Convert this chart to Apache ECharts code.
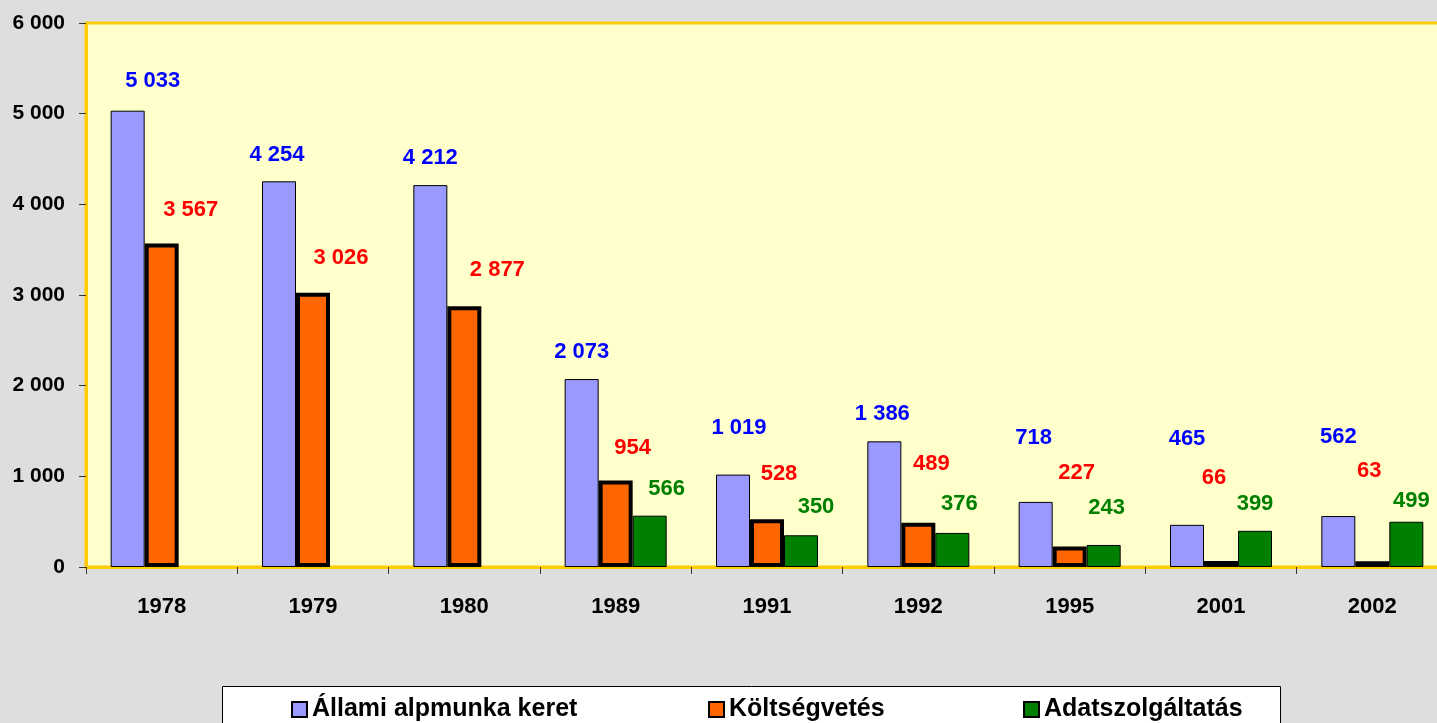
<!DOCTYPE html>
<html>
<head>
<meta charset="utf-8">
<script src="https://cdn.jsdelivr.net/npm/echarts@6/dist/echarts.min.js"></script>
<style>
html,body{margin:0;padding:0;background:#DEDEDE;}
#c{width:1437px;height:723px;}
</style>
</head>
<body>
<div id="c"></div>
<script>
const categories = ['1978','1979','1980','1989','1991','1992','1995','2001','2002'];
const seriesNames = ['Állami alpmunka keret','Költségvetés','Adatszolgáltatás'];
const allami = [5033, 4254, 4212, 2073, 1019, 1386, 718, 465, 562];
const koltseg = [3567, 3026, 2877, 954, 528, 489, 227, 66, 63];
const adat = [null, null, null, 566, 350, 376, 243, 399, 499];
const yTicks = [0, 1000, 2000, 3000, 4000, 5000, 6000];

// label nudges (label placement only)
const nudgeA = [[25,-30],[-2,-26],[0,-27],[0,-27],[6,-47],[-2,-27],[-2,-64],[0,-86],[0,-79]];
const nudgeK = [[29,-34],[28,-35],[33,-36],[17,-33],[12,-45],[13,-59],[7,-73],[-7,-83],[-3,-90]];
const nudgeD = [[0,0],[0,0],[0,0],[17,-27],[15,-28],[7,-29],[3,-37],[0,-27],[5,-21]];

const fmt = v => String(v).replace(/\B(?=(\d{3})+(?!\d))/g, ' ');
const FONT = '"Liberation Sans", Arial, sans-serif';

function mk(values, nudges) {
  return values.map((v, i) => ({
    value: v,
    label: { offset: nudges[i] }
  }));
}
const labelBase = (color) => ({
  show: true, position: 'top', distance: 0, verticalAlign: 'middle', align: 'center',
  color: color, fontFamily: FONT, fontWeight: 'bold', fontSize: 22,
  formatter: p => fmt(p.value)
});

const chart = echarts.init(document.getElementById('c'), null, {renderer: 'canvas'});
chart.setOption({
  backgroundColor: '#DEDEDE',
  animation: false,
  grid: {
    left: 86, top: 23, width: 1362, height: 544,
    outerBoundsMode: 'none', containLabel: false,
    show: true, backgroundColor: '#FFFFCC', borderColor: '#FFCC00', borderWidth: 3
  },
  xAxis: {
    type: 'category', data: categories,
    axisLine: { lineStyle: { color: '#FFCC00', width: 3 } },
    axisTick: { show: true, length: 7, lineStyle: { color: '#333333', width: 1 } },
    axisLabel: { color: '#000', fontFamily: FONT, fontWeight: 'bold', fontSize: 22, margin: 29 }
  },
  yAxis: {
    type: 'value', min: yTicks[0], max: yTicks[yTicks.length-1], interval: 1000,
    splitLine: { show: false },
    axisLine: { show: true, lineStyle: { color: '#FFCC00', width: 3 } },
    axisTick: { show: true, length: 7, lineStyle: { color: '#333333', width: 1 } },
    axisLabel: { color: '#000', fontFamily: FONT, fontWeight: 'bold', fontSize: 21, margin: 21, formatter: v => fmt(v) }
  },
  legend: [0,1,2].map((i) => ({
    data: [seriesNames[i]],
    left: [291, 708, 1023][i], top: 697,
    itemWidth: 15, itemHeight: 15, icon: 'rect',
    padding: 0,
    textStyle: { color: '#000', fontFamily: FONT, fontWeight: 'bold', fontSize: 25, padding: [0,0,0,0] },
    selectedMode: false
  })),
  graphic: [{
    type: 'rect', z: -1, silent: true,
    shape: { x: 222.5, y: 686.5, width: 1058, height: 60 },
    style: { fill: '#FFFFFF', stroke: '#000000', lineWidth: 1 }
  }],
  series: [
    {
      name: seriesNames[0], type: 'bar', barWidth: 34, barGap: '0%',
      itemStyle: { color: '#9999FF', borderColor: '#000', borderWidth: 1 },
      label: labelBase('#0000FF'),
      data: mk(allami, nudgeA)
    },
    {
      name: seriesNames[1], type: 'bar', barWidth: 34, barGap: '0%',
      itemStyle: { color: '#FF6600', borderColor: '#000', borderWidth: 4 },
      label: labelBase('#FF0000'),
      data: mk(koltseg, nudgeK)
    },
    {
      name: seriesNames[2], type: 'bar', barWidth: 34, barGap: '0%',
      itemStyle: { color: '#008000', borderColor: '#000', borderWidth: 1 },
      label: labelBase('#008000'),
      data: mk(adat, nudgeD)
    }
  ]
});
</script>
</body>
</html>
